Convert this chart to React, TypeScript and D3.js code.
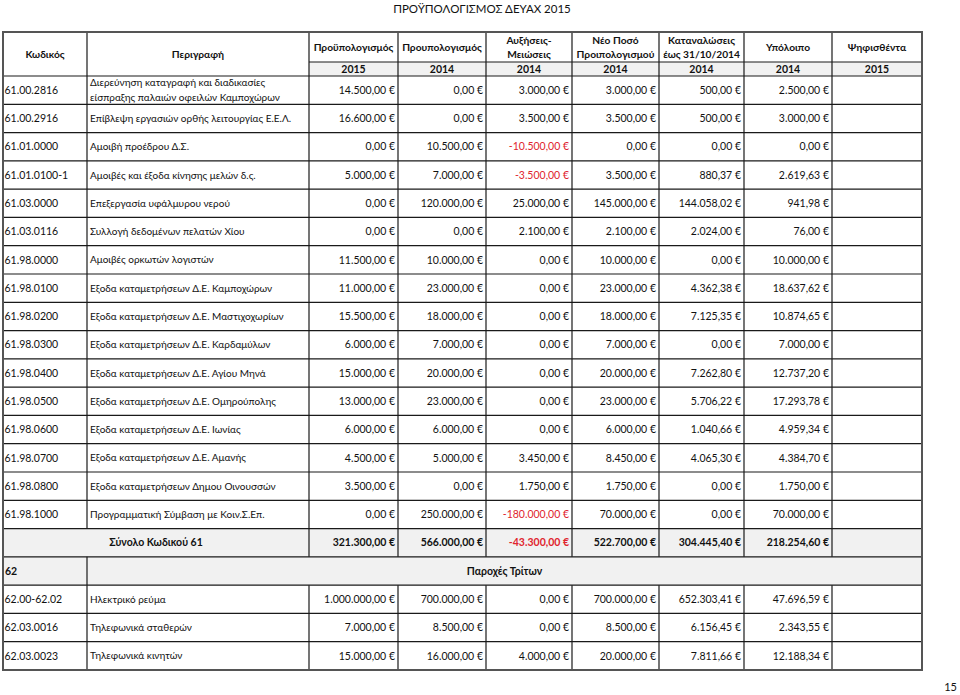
import React from 'react';
import * as d3 from 'd3';

const title = 'ΠΡΟΫΠΟΛΟΓΙΣΜΟΣ ΔΕΥΑΧ 2015';
const pageNumber = '15';

const headerLines = [
    ['Κωδικός'],
    ['Περιγραφή'],
    ['Προϋπολογισμός'],
    ['Προυπολογισμός'],
    ['Αυξήσεις-', 'Μειώσεις'],
    ['Νέο Ποσό', 'Προιπολογισμού'],
    ['Καταναλώσεις', 'έως 31/10/2014'],
    ['Υπόλοιπο'],
    ['Ψηφισθέντα'],
];
const headerYears = ['', '', '2015', '2014', '2014', '2014', '2014', '2014', '2015'];

// group 61
const codes61 = ['61.00.2816', '61.00.2916', '61.01.0000', '61.01.0100-1', '61.03.0000', '61.03.0116', '61.98.0000', '61.98.0100',
    '61.98.0200', '61.98.0300', '61.98.0400', '61.98.0500', '61.98.0600', '61.98.0700', '61.98.0800', '61.98.1000'];
const descriptions61 = [
    'Διερεύνηση καταγραφή και διαδικασίες|είσπραξης παλαιών οφειλών Καμποχώρων',
    'Επίβλεψη εργασιών ορθής λειτουργίας Ε.Ε.Λ.',
    'Αμοιβή προέδρου Δ.Σ.',
    'Αμοιβές και έξοδα κίνησης μελών δ.ς.',
    'Επεξεργασία υφάλμυρου νερού',
    'Συλλογή δεδομένων πελατών Χίου',
    'Αμοιβές ορκωτών λογιστών',
    'Εξοδα καταμετρήσεων Δ.Ε. Καμποχώρων',
    'Εξοδα καταμετρήσεων Δ.Ε. Μαστιχοχωρίων',
    'Εξοδα καταμετρήσεων Δ.Ε. Καρδαμύλων',
    'Εξοδα καταμετρήσεων Δ.Ε. Αγίου Μηνά',
    'Εξοδα καταμετρήσεων Δ.Ε. Ομηρούπολης',
    'Εξοδα καταμετρήσεων Δ.Ε. Ιωνίας',
    'Εξοδα καταμετρήσεων Δ.Ε. Αμανής',
    'Εξοδα καταμετρήσεων Δημου Οινουσσών',
    'Προγραμματική Σύμβαση με Κοιν.Σ.Επ.',
];
const budget2015_61 = [14500, 16600, 0, 5000, 0, 0, 11500, 11000, 15500, 6000, 15000, 13000, 6000, 4500, 3500, 0];
const budget2014_61 = [0, 0, 10500, 7000, 120000, 0, 10000, 23000, 18000, 7000, 20000, 23000, 6000, 5000, 0, 250000];
const changes2014_61 = [3000, 3500, -10500, -3500, 25000, 2100, 0, 0, 0, 0, 0, 0, 0, 3450, 1750, -180000];
const newBudget2014_61 = [3000, 3500, 0, 3500, 145000, 2100, 10000, 23000, 18000, 7000, 20000, 23000, 6000, 8450, 1750, 70000];
const spent2014_61 = [500, 500, 0, 880.37, 144058.02, 2024, 0, 4362.38, 7125.35, 0, 7262.8, 5706.22, 1040.66, 4065.3, 0, 0];
const remaining2014_61 = [2500, 3000, 0, 2619.63, 941.98, 76, 10000, 18637.62, 10874.65, 7000, 12737.2, 17293.78, 4959.34, 4384.7, 1750, 70000];

const totalLabel61 = 'Σύνολο Κωδικού 61';
const totals61 = [321300, 566000, -43300, 522700, 304445.4, 218254.6];

// group 62
const groupCode62 = '62';
const groupTitle62 = 'Παροχές Τρίτων';
const codes62 = ['62.00-62.02', '62.03.0016', '62.03.0023'];
const descriptions62 = ['Ηλεκτρικό ρεύμα', 'Τηλεφωνικά σταθερών', 'Τηλεφωνικά κινητών'];
const budget2015_62 = [1000000, 7000, 15000];
const budget2014_62 = [700000, 8500, 16000];
const changes2014_62 = [0, 0, 4000];
const newBudget2014_62 = [700000, 8500, 20000];
const spent2014_62 = [652303.41, 6156.45, 7811.66];
const remaining2014_62 = [47696.59, 2343.55, 12188.34];

const locale = d3.formatLocale({decimal: ',', thousands: '.', grouping: [3], currency: ['', ' €'], minus: '-'});
const fmt = locale.format('$,.2f');

const FONT = 'Lato, "Open Sans", "Noto Sans", sans-serif';
const RED = '#e0252e';
const GRAY_BG = '#f1f1f1';
const FS = 10.5;

const colEdges = [3, 87, 309, 398, 486, 572, 659, 744, 832, 922];

const buildRows = () => {
    const rows = [];
    codes61.forEach((c, i) => rows.push({
        type: 'data', code: c, desc: descriptions61[i],
        values: [budget2015_61[i], budget2014_61[i], changes2014_61[i], newBudget2014_61[i], spent2014_61[i], remaining2014_61[i]],
    }));
    rows.push({type: 'total', label: totalLabel61, values: totals61});
    rows.push({type: 'group', code: groupCode62, label: groupTitle62});
    codes62.forEach((c, i) => rows.push({
        type: 'data', code: c, desc: descriptions62[i],
        values: [budget2015_62[i], budget2014_62[i], changes2014_62[i], newBudget2014_62[i], spent2014_62[i], remaining2014_62[i]],
    }));
    return rows;
};

const App = () => {
    const rows = buildRows();
    const tableTop = 32, headerMid = 62, headerBottom = 76, tableBottom = 670;
    const left = colEdges[0], right = colEdges[colEdges.length - 1];

    const y = d3.scaleBand()
        .domain(rows.map((_, i) => String(i)))
        .range([headerBottom, tableBottom])
        .paddingInner(0).paddingOuter(0);
    const rh = y.bandwidth();

    const lineColor = '#1a1a1a';

    return (
        <svg width={960} height={695} style={{position: 'absolute', left: 0, top: 0, background: '#fff'}}
             fontFamily={FONT}>
            <text x={482} y={13} textAnchor="middle" fontSize={11.5} fill="#111">{title}</text>

            {/* header backgrounds */}
            <rect x={colEdges[2]} y={headerMid} width={right - colEdges[2]} height={headerBottom - headerMid} fill={GRAY_BG}/>

            {/* row backgrounds */}
            {rows.map((r, i) => (r.type === 'total' || r.type === 'group') ? (
                <rect key={'bg' + i} x={left} y={y(String(i))} width={right - left} height={rh} fill={GRAY_BG}/>
            ) : null)}

            {/* header text */}
            {headerLines.map((lines, c) => {
                const cx = (colEdges[c] + colEdges[c + 1]) / 2;
                const spanBoth = c < 2;
                const cy = spanBoth ? (tableTop + headerBottom) / 2 : (tableTop + headerMid) / 2;
                const lh = 14;
                return lines.map((t, k) => (
                    <text key={'h' + c + k} x={cx} y={cy + (k - (lines.length - 1) / 2) * lh} dy="0.35em"
                          textAnchor="middle" fontSize={10.2} fontWeight="bold" fill="#111">{t}</text>
                ));
            })}
            {headerYears.map((t, c) => t ? (
                <text key={'yr' + c} x={(colEdges[c] + colEdges[c + 1]) / 2} y={(headerMid + headerBottom) / 2} dy="0.35em"
                      textAnchor="middle" fontSize={10.5} fontWeight="bold" fill="#111">{t}</text>
            ) : null)}

            {/* body text */}
            {rows.map((r, i) => {
                const top = y(String(i));
                const cy = top + rh / 2;
                if (r.type === 'group') {
                    return (
                        <g key={'r' + i}>
                            <text x={left + 2} y={cy} dy="0.35em" fontSize={FS} fontWeight="bold" fill="#111">{r.code}</text>
                            <text x={(colEdges[1] + right) / 2} y={cy} dy="0.35em" textAnchor="middle" fontSize={FS}
                                  fontWeight="bold" fill="#111">{r.label}</text>
                        </g>
                    );
                }
                const bold = r.type === 'total';
                return (
                    <g key={'r' + i}>
                        {r.type === 'total' ? (
                            <text x={(colEdges[0] + colEdges[2]) / 2} y={cy} dy="0.35em" textAnchor="middle" fontSize={FS}
                                  fontWeight="bold" fill="#111">{r.label}</text>
                        ) : (
                            <>
                                <text x={left + 1.5} y={cy} dy="0.35em" fontSize={FS} fill="#111">{r.code}</text>
                                {r.desc.split('|').map((line, k, arr) => (
                                    <text key={k} x={colEdges[1] + 3} y={cy + (k - (arr.length - 1) / 2) * 15.5} dy="0.35em"
                                          fontSize={10} fill="#111">{line}</text>
                                ))}
                            </>
                        )}
                        {r.values.map((v, k) => (
                            <text key={'v' + k} x={colEdges[k + 3] - 3} y={cy} dy="0.35em" textAnchor="end" fontSize={FS}
                                  fontWeight={bold ? 'bold' : 'normal'} fill={v < 0 ? RED : '#111'}>{fmt(v)}</text>
                        ))}
                    </g>
                );
            })}

            {/* horizontal grid lines */}
            <line x1={colEdges[2]} x2={right} y1={headerMid} y2={headerMid} stroke={lineColor} strokeWidth={1.2}/>
            <line x1={left} x2={right} y1={headerBottom} y2={headerBottom} stroke={lineColor} strokeWidth={1.2}/>
            {rows.map((_, i) => i > 0 ? (
                <line key={'hl' + i} x1={left} x2={right} y1={y(String(i))} y2={y(String(i))} stroke={lineColor} strokeWidth={1.2}/>
            ) : null)}

            {/* vertical grid lines */}
            {colEdges.slice(1, -1).map((xe, c) => {
                const segs = [];
                segs.push([tableTop, headerBottom]);
                rows.forEach((r, i) => {
                    const top = y(String(i));
                    if (r.type === 'total' && c === 0) return;
                    if (r.type === 'group' && c > 0) return;
                    segs.push([top, top + rh]);
                });
                return segs.map(([a, b], k) => (
                    <line key={'vl' + c + '-' + k} x1={xe} x2={xe} y1={a} y2={b} stroke={lineColor} strokeWidth={1.2}/>
                ));
            })}

            {/* outer border */}
            <rect x={left} y={tableTop} width={right - left} height={tableBottom - tableTop} fill="none" stroke="#555"
                  strokeWidth={2}/>

            <text x={957} y={691} textAnchor="end" fontSize={11} fill="#111">{pageNumber}</text>
        </svg>
    );
};

export default App;
